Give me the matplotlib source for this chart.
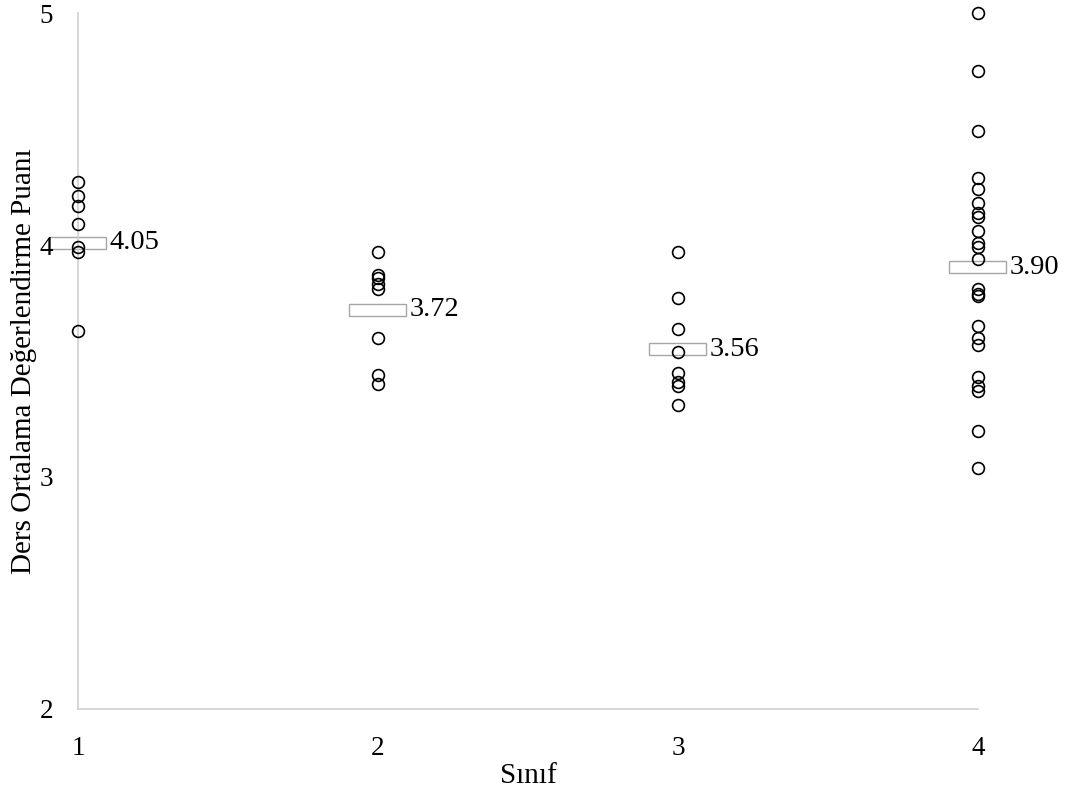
import matplotlib
matplotlib.use("Agg")
import matplotlib.pyplot as plt

plt.rcParams['font.family'] = ['Liberation Serif', 'DejaVu Serif']

siniflar = [1, 2, 3, 4]

sinif1 = [4.27, 4.21, 4.17, 4.09, 3.99, 3.97, 3.63]
sinif2 = [3.97, 3.87, 3.86, 3.83, 3.81, 3.60, 3.44, 3.40]
sinif3 = [3.97, 3.77, 3.64, 3.54, 3.45, 3.41, 3.39, 3.31]
sinif4 = [5.00, 4.75, 4.49, 4.29, 4.24, 4.18, 4.14, 4.12, 4.06, 4.01, 3.99,
          3.94, 3.81, 3.79, 3.78, 3.65, 3.60, 3.57, 3.43, 3.39, 3.37, 3.20, 3.04]

# ortalama kutularinin yeri ve etiketleri
ortalama_yer = [4.01, 3.72, 3.55, 3.905]
ortalama_etiket = ["4.05", "3.72", "3.56", "3.90"]

fig = plt.figure(figsize=(10.65, 7.93), dpi=100)
ax = fig.add_axes([0.0732, 0.1063, 0.8451, 0.877])

kutu_g = 0.19
kutu_h = 0.052
kutular = ax.bar(siniflar, [kutu_h] * 4, width=kutu_g,
                 bottom=[m - kutu_h / 2 for m in ortalama_yer],
                 color="white", edgecolor="#a6a6a6", linewidth=1, zorder=1)
for k in kutular:
    k.set_clip_on(False)

for x, vals in zip(siniflar, [sinif1, sinif2, sinif3, sinif4]):
    ax.plot([x] * len(vals), vals, linestyle="none", marker="o", markersize=8.5,
            markerfacecolor="none", markeredgecolor="black", markeredgewidth=1.2,
            zorder=3, clip_on=False)

for x, m, t in zip(siniflar, ortalama_yer, ortalama_etiket):
    ax.text(x + kutu_g / 2 + 0.01, m, t, fontsize=20.5, va="center", ha="left")

ax.set_xlim(1, 4)
ax.set_ylim(2, 5)
ax.set_xticks(siniflar)
ax.set_yticks([2, 3, 4, 5])
ax.tick_params(length=0, labelsize=19.5)
ax.tick_params(axis="y", pad=18)
ax.tick_params(axis="x", pad=20)

for s in ["top", "right"]:
    ax.spines[s].set_visible(False)
for s in ["left", "bottom"]:
    ax.spines[s].set_color("#d0d0d0")
    ax.spines[s].set_linewidth(1.2)

ax.set_xlabel("Sınıf", fontsize=21)
ax.set_ylabel("Ders Ortalama Değerlendirme Puanı", fontsize=21)
ax.xaxis.set_label_coords(0.5, -0.078)
ax.yaxis.set_label_coords(-0.046, 0.5)

fig.savefig("out.png", dpi=100)
